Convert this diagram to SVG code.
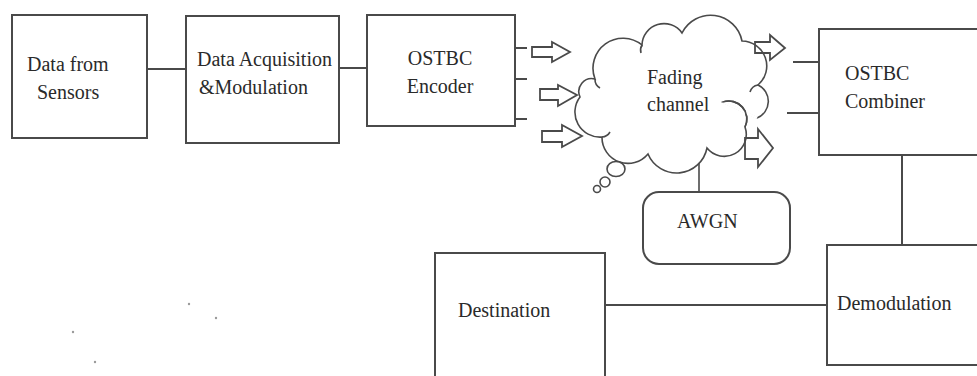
<svg xmlns="http://www.w3.org/2000/svg" width="977" height="376" viewBox="0 0 977 376">
<style>
.box{fill:#fff;stroke:#4a4a4a;stroke-width:2}
.ln{fill:none;stroke:#4a4a4a;stroke-width:2}
.cl{fill:#fff;stroke:#4a4a4a;stroke-width:1.6}
.cln{fill:none;stroke:#4a4a4a;stroke-width:1.6}
.ar{fill:none;stroke:#4a4a4a;stroke-width:1.8;stroke-linejoin:miter}
.t{font-family:"Liberation Serif","Times New Roman",serif;font-size:20px;fill:#2a2a2a}
.dot{fill:#9a9a9a}
</style>
<rect width="977" height="376" fill="#fff"/>

<g id="connectors">
<line class="ln" x1="147" y1="69" x2="186" y2="69"/>
<line class="ln" x1="339" y1="68" x2="367" y2="68"/>
<line class="ln" x1="515" y1="48" x2="527" y2="48"/>
<line class="ln" x1="515" y1="79" x2="527" y2="79"/>
<line class="ln" x1="515" y1="119" x2="527" y2="119"/>
<line class="ln" x1="793" y1="62" x2="819" y2="62"/>
<line class="ln" x1="787" y1="113" x2="819" y2="113"/>
<line class="ln" x1="902" y1="155" x2="902" y2="245"/>
<line class="ln" x1="605" y1="305" x2="827" y2="305"/>
<line class="cln" x1="699" y1="162" x2="699" y2="192"/>
</g>

<g id="sensors">
<rect class="box" x="12" y="15" width="135" height="123"/>
<text class="t" x="27" y="71">Data from</text>
<text class="t" x="37" y="99">Sensors</text>
</g>

<g id="acquisition">
<rect class="box" x="186" y="16" width="153" height="127"/>
<text class="t" x="197" y="66">Data Acquisition</text>
<text class="t" x="199" y="94">&amp;Modulation</text>
</g>

<g id="encoder">
<rect class="box" x="367" y="15" width="148" height="111"/>
<text class="t" x="440" y="65" text-anchor="middle">OSTBC</text>
<text class="t" x="440" y="93" text-anchor="middle">Encoder</text>
</g>

<g id="fading-channel">
<path class="cl" d="M757,118 L723,102 A18,18 0 0 1 745,127 A22,22 0 0 1 707,148 A31,31 0 0 1 648,154 A26,26 0 0 1 602,137 A25,25 0 0 1 580,97 A13,13 0 0 1 595,79 A30,30 0 0 1 642,45 A22,22 0 0 1 682,33 A32,32 0 0 1 742,41 A25,25 0 0 1 758,85 A18,18 0 0 1 757,118"/>
<path class="cln" d="M757,118 L723,102" stroke="#fff" style="stroke:#fff;stroke-width:3"/>
<path class="cln" d="M723,102 A18,18 0 0 1 745,127"/>
<path class="cln" d="M595,79 A10,10 0 0 0 600,88"/>
<path class="cln" d="M758,85 A10,10 0 0 0 750,92"/>
<path class="cln" d="M642,45 A10,10 0 0 0 641,53"/>
<path class="cln" d="M602,137 A10,10 0 0 0 610,132"/>
<ellipse class="cl" cx="616" cy="169" rx="9" ry="7.5"/>
<circle class="cl" cx="605" cy="182" r="5"/>
<circle class="cl" cx="597" cy="189" r="3.5"/>
<text class="t" x="647" y="84">Fading</text>
<text class="t" x="647" y="111">channel</text>
</g>

<g id="tx-arrows">
<path class="ar" d="M532,47 H552 V42 L570,52 L552,62 V57 H532 Z"/>
<path class="ar" d="M540,89 H558 V85 L577,95 L558,106 V100 H540 Z"/>
<path class="ar" d="M542,131 H562 V125 L582,136 L562,147 V142 H542 Z"/>
<path class="ar" d="M755,42 H770 V35 L785,48 L770,60 V53 H755 Z"/>
<path class="ar" d="M745,138 H758 V129 L773,148 L758,167 V159 H745 Z"/>
</g>

<g id="combiner">
<rect class="box" x="819" y="29" width="170" height="126"/>
<text class="t" x="845" y="80">OSTBC</text>
<text class="t" x="845" y="108">Combiner</text>
</g>

<g id="awgn">
<rect class="box" x="643" y="192" width="147" height="72" rx="16" ry="16"/>
<text class="t" x="677" y="228">AWGN</text>
</g>

<g id="destination">
<rect class="box" x="435" y="253" width="170" height="140"/>
<text class="t" x="458" y="317">Destination</text>
</g>

<g id="demodulation">
<rect class="box" x="827" y="245" width="170" height="120"/>
<text class="t" x="837" y="310">Demodulation</text>
</g>

<g id="specks">
<circle class="dot" cx="189" cy="304" r="1.2"/>
<circle class="dot" cx="216" cy="318" r="1.2"/>
<circle class="dot" cx="73" cy="332" r="1.2"/>
<circle class="dot" cx="95" cy="362" r="1.2"/>
</g>
</svg>
